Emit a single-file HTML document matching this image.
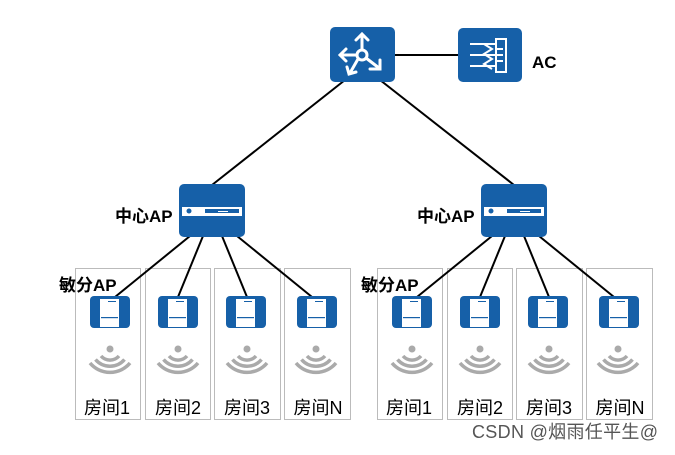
<!DOCTYPE html><html><head><meta charset="utf-8"><style>body{margin:0;background:#fff}svg text{font-family:"Liberation Sans","Noto Sans CJK SC",sans-serif}</style></head><body>
<svg width="675" height="450" viewBox="0 0 675 450">
<defs>
<g id="sap"><rect x="0" y="0" width="40" height="32" rx="4" fill="#1660a8"/><rect x="10" y="3" width="19" height="28" fill="#fff"/><rect x="11" y="21" width="17" height="1.2" fill="#1660a8"/><rect x="18" y="5" width="8" height="1" fill="#1660a8"/></g>
<g id="wifi" fill="none" stroke="#aaa" stroke-width="3.5"><circle cx="0" cy="2" r="3.5" fill="#aaa" stroke="none"/><path d="M-9 9 A12 12 0 0 0 9 9"/><path d="M-14.5 12.5 A19 19 0 0 0 14.5 12.5"/><path d="M-20 16 A26 26 0 0 0 20 16"/></g>
<g id="grp">
<g fill="none" stroke="#bbb" stroke-width="1"><rect x="75.5" y="268.5" width="65" height="151"/><rect x="145.5" y="268.5" width="65" height="151"/><rect x="214.5" y="268.5" width="66" height="151"/><rect x="284.5" y="268.5" width="66" height="151"/></g>
<g stroke="#000" stroke-width="2"><line x1="190" y1="236" x2="115" y2="297"/><line x1="203" y1="236" x2="178" y2="297"/><line x1="222" y1="236" x2="247" y2="297"/><line x1="237" y1="236" x2="312" y2="297"/></g>
<rect x="179" y="184" width="66" height="53" rx="5" fill="#1660a8"/><rect x="182" y="207" width="60" height="9" fill="#fff"/><circle cx="189" cy="211" r="2.5" fill="#1660a8"/><rect x="205" y="209" width="34" height="4" fill="#1660a8"/><rect x="218" y="211" width="10" height="1" fill="#fff"/>
<text x="115" y="222" font-size="17" font-weight="bold">中心AP</text>
<text x="59" y="291" font-size="17" font-weight="bold">敏分AP</text>
<use href="#sap" x="90" y="296"/><use href="#sap" x="158" y="296"/><use href="#sap" x="226" y="296"/><use href="#sap" x="297" y="296"/>
<use href="#wifi" x="110" y="347"/><use href="#wifi" x="178" y="347"/><use href="#wifi" x="247" y="347"/><use href="#wifi" x="316" y="347"/>
<g font-size="18" text-anchor="middle"><text x="107" y="414">房间1</text><text x="178" y="414">房间2</text><text x="247" y="414">房间3</text><text x="318" y="414">房间N</text></g>
</g>
</defs>
<line x1="345" y1="80" x2="212" y2="185" stroke="#000" stroke-width="2"/>
<line x1="380" y1="80" x2="514" y2="185" stroke="#000" stroke-width="2"/>
<line x1="395" y1="55" x2="458" y2="55" stroke="#000" stroke-width="2"/>
<use href="#grp"/><use href="#grp" x="302"/>
<rect x="330" y="27" width="65" height="55" rx="5" fill="#1660a8"/>
<g stroke="#fff" stroke-width="3" fill="none" stroke-linecap="round"><circle cx="362" cy="55" r="5"/><path d="M362 50V35M356 40l6-6 6 6M357 55H342M346 49l-6 6 6 6M366 58l13 10M370 69h10v-9M358 59l-8 14M347 67l2 7 7-2"/></g>
<rect x="458" y="28" width="64" height="54" rx="5" fill="#1660a8"/>
<g stroke="#fff" stroke-width="2" fill="none"><rect x="496" y="39" width="10" height="33"/><path d="M470 44h26M470 55h26M470 66h26M484 44l8 5-8 5 8 5-8 5 8 5M496 49h7M496 55h7M496 61h7"/></g>
<text x="532" y="68" font-size="17" font-weight="bold">AC</text>
<text x="472" y="438" font-size="18" fill="#555" textLength="186">CSDN @烟雨任平生@</text>
</svg></body></html>
